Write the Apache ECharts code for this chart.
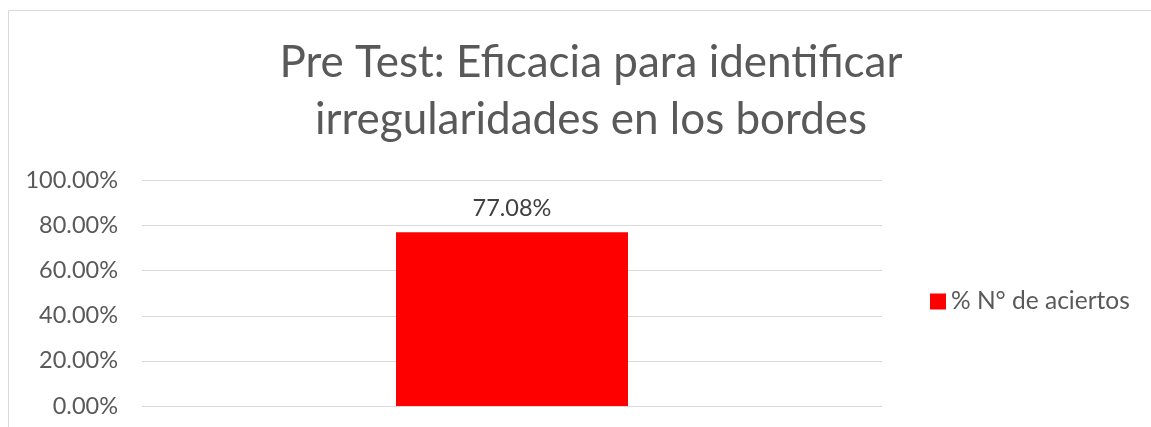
<!DOCTYPE html>
<html lang="es">
<head>
    <meta charset="UTF-8">
    <title>Pre Test</title>
    <style>
        html, body { margin: 0; padding: 0; background: #fff; }
    </style>
</head>
<body>
<div id="main" style="width: 1151px;height:427px;"></div>

<script src="https://cdn.jsdelivr.net/npm/echarts@6/dist/echarts.min.js"></script>
<script>
    // datos del gráfico
    var categorias = ['Pre Test'];
    var aciertos = [77.08];
    var nombreSerie = '% N° de aciertos';
    var ticksY = [0, 20, 40, 60, 80, 100];

    var myChart = echarts.init(document.getElementById('main'));
    var fuente = 'Lato, "Open Sans", sans-serif';

    var option = {
        animation: false,
        textStyle: { fontFamily: fuente },
        // marco del área del gráfico
        graphic: [{
            type: 'rect',
            shape: { x: 8.5, y: 10.5, width: 1300, height: 600 },
            style: { fill: 'none', stroke: '#d9d9d9', lineWidth: 1 },
            silent: true
        }],
        title: {
            text: 'Pre Test: Eficacia para identificar\nirregularidades en los bordes',
            left: 586,
            textAlign: 'center',
            top: 29,
            textStyle: {
                fontFamily: fuente,
                fontWeight: 'normal',
                fontSize: 44,
                lineHeight: 57,
                color: '#595959'
            }
        },
        legend: {
            data: [{ name: nombreSerie, icon: 'rect' }],
            left: 925,
            top: 284,
            itemWidth: 16,
            itemHeight: 16,
            itemGap: 8,
            textStyle: { fontFamily: fuente, fontSize: 24.5, color: '#595959' }
        },
        grid: {
            left: 142,
            right: 269,
            top: 180.5,
            bottom: 21,
            containLabel: false
        },
        xAxis: {
            type: 'category',
            data: categorias,
            axisLine: { show: false },
            axisTick: { show: false },
            axisLabel: { show: false }
        },
        yAxis: {
            type: 'value',
            min: ticksY[0],
            max: ticksY[ticksY.length - 1],
            interval: 20,
            axisLine: { show: false },
            axisTick: { show: false },
            splitLine: { lineStyle: { color: '#d9d9d9', width: 1 } },
            axisLabel: {
                margin: 24,
                fontFamily: fuente,
                fontSize: 23.5,
                color: '#595959',
                formatter: function (v) { return v.toFixed(2) + '%'; }
            }
        },
        series: [{
            name: nombreSerie,
            type: 'bar',
            data: aciertos,
            barWidth: 232,
            itemStyle: { color: '#ff0000' },
            label: {
                show: true,
                position: 'top',
                distance: 12,
                fontFamily: fuente,
                fontSize: 23.5,
                color: '#404040',
                formatter: function (p) { return p.value.toFixed(2) + '%'; }
            }
        }]
    };

    myChart.setOption(option);
</script>
</body>
</html>
